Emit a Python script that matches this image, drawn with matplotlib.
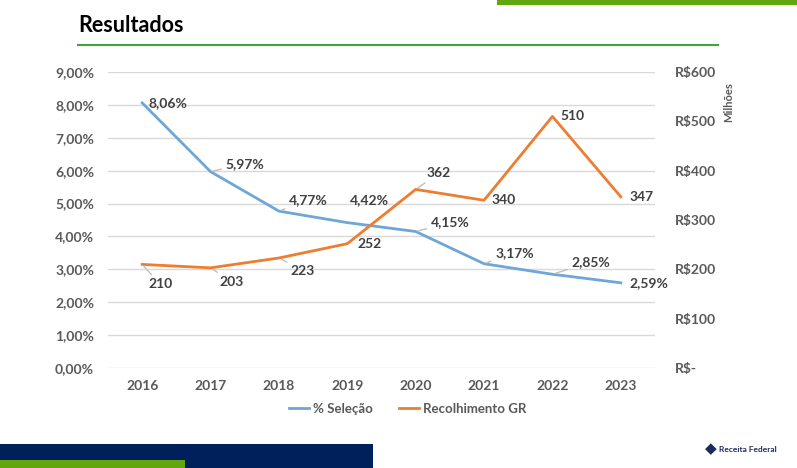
import matplotlib.pyplot as plt
from matplotlib.patches import Rectangle
from matplotlib.lines import Line2D
from matplotlib.ticker import FuncFormatter

plt.rcParams['font.family'] = ['Lato', 'DejaVu Sans']

years = ['2016', '2017', '2018', '2019', '2020', '2021', '2022', '2023']
selecao = [8.06, 5.97, 4.77, 4.42, 4.15, 3.17, 2.85, 2.59]  # % Seleção
recolhimento = [210, 203, 223, 252, 362, 340, 510, 347]  # R$ milhões

# label offsets in pixels (dx, dy) and whether a leader line is drawn
sel_offsets = [(6, 0), (15, 8), (10, 11), (3, 23), (15, 9), (11, 11), (19, 12), (9, 0)]
sel_leader = [False, True, True, False, True, True, True, False]
rec_offsets = [(6, -20), (9, -14), (12, -13), (10, 0), (11, 16), (7, 0), (8, 0), (9, 0)]
rec_leader = [True, True, True, False, True, False, False, False]

BLUE = '#6FA6D6'
ORANGE = '#ED7D31'
TXT = '#404040'
TICK = '#595959'

W, H = 797, 468
fig = plt.figure(figsize=(W / 100, H / 100), dpi=100)

# slide decorations
fig.add_artist(Rectangle((497 / W, 1 - 5 / H), 300 / W, 5 / H, transform=fig.transFigure,
                         color='#62A60E', lw=0))
fig.add_artist(Rectangle((0, 0), 373 / W, 24 / H, transform=fig.transFigure,
                         color='#00205B', lw=0))
fig.add_artist(Rectangle((0, 0), 185 / W, 8 / H, transform=fig.transFigure,
                         color='#62A60E', lw=0))
fig.add_artist(Line2D([78 / W, 718 / W], [1 - 45 / H, 1 - 45 / H], transform=fig.transFigure,
                      color='#3FA535', lw=1.5))
fig.text(78 / W, 1 - 25 / H, 'Resultados', fontsize=15.5, fontweight='bold',
         color='black', va='center', ha='left')
fig.text(719 / W, 1 - 449 / H, 'Receita Federal', fontsize=6, fontweight='bold',
         color='#1B2A5C', va='center', ha='left')
fig.text(711 / W, 1 - 449 / H, '\u25c6', fontsize=11, color='#1B2A5C', va='center', ha='center')

ax = fig.add_axes([108 / W, 1 - 368 / H, 547 / W, 296 / H])
ax2 = ax.twinx()

x = list(range(len(years)))
ax.plot(x, selecao, color=BLUE, lw=2, label='% Seleção', zorder=3)
ax2.plot(x, recolhimento, color=ORANGE, lw=2, label='Recolhimento GR', zorder=3)

ax.set_xlim(-0.5, len(years) - 0.5)
ax.set_ylim(0, 9)
ax.set_yticks(range(0, 10))
ax.yaxis.set_major_formatter(FuncFormatter(lambda v, p: f'{v:.2f}%'.replace('.', ',')))
ax2.set_ylim(0, 600)
ax2.set_yticks(range(0, 601, 100))
ax2.yaxis.set_major_formatter(FuncFormatter(lambda v, p: 'R$-' if v == 0 else f'R${v:.0f}'))

ax.set_xticks(x)
ax.set_xticklabels(years)
ax.grid(axis='y', color='#D9D9D9', lw=1)
ax.set_axisbelow(True)
for a in (ax, ax2):
    for s in a.spines.values():
        s.set_visible(False)
    a.tick_params(length=0, colors=TICK, labelsize=10)
    for lab in a.get_xticklabels() + a.get_yticklabels():
        lab.set_fontweight('bold')
ax.tick_params(axis='x', pad=9)
ax.tick_params(axis='y', pad=10)
ax2.tick_params(axis='y', pad=14)

ax2.set_ylabel('Milhões', fontsize=8, fontweight='bold', color=TICK)
ax2.yaxis.set_label_coords(1.125, 0.9)

leader = dict(arrowstyle='-', color='#BFBFBF', lw=1, shrinkA=1, shrinkB=2)
for i, v in enumerate(selecao):
    ax.annotate(f'{v:.2f}%'.replace('.', ','), (i, v), xytext=sel_offsets[i],
                textcoords='offset pixels', ha='left', va='center', fontsize=10,
                fontweight='bold', color=TXT, zorder=5,
                arrowprops=leader if sel_leader[i] else None)
for i, v in enumerate(recolhimento):
    ax2.annotate(f'{v}', (i, v), xytext=rec_offsets[i],
                 textcoords='offset pixels', ha='left', va='center', fontsize=10,
                 fontweight='bold', color=TXT, zorder=5,
                 arrowprops=leader if rec_leader[i] else None)

h1, l1 = ax.get_legend_handles_labels()
h2, l2 = ax2.get_legend_handles_labels()
fig.legend(h1 + h2, l1 + l2, loc='center', bbox_to_anchor=(408 / W, 1 - 409 / H), ncol=2,
           frameon=False, handlelength=1.5, handletextpad=0.3, columnspacing=2,
           prop={'weight': 'bold', 'size': 9.5})
for t in fig.legends[0].get_texts():
    t.set_color(TICK)

fig.savefig('out.png', dpi=100, facecolor='white')
